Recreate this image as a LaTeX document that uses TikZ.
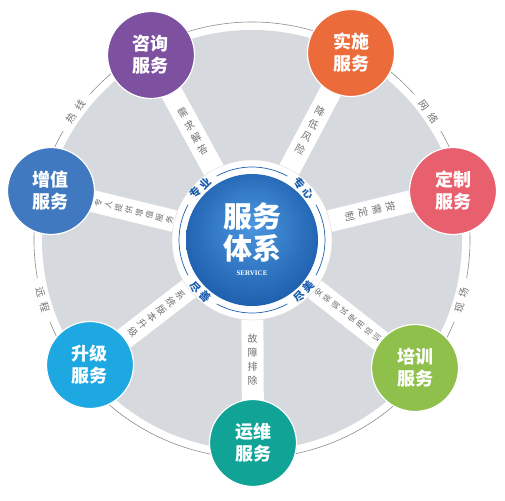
\documentclass[tikz,border=0pt]{standalone}
\usepackage{fontspec}
\setmainfont{Liberation Serif}
\newfontfamily\cjk{Noto Sans CJK SC}
\usetikzlibrary{positioning,backgrounds}

\definecolor{diskgray}{HTML}{D6D9DD}
\definecolor{linegray}{HTML}{8C8C8C}
\definecolor{txtgray}{HTML}{707070}
\definecolor{hubblue}{HTML}{1E5FAE}
\definecolor{hublight}{HTML}{4C97DF}
\definecolor{hubdark}{HTML}{0C4795}
\definecolor{zxpurple}{HTML}{7E50A0}
\definecolor{ssorange}{HTML}{EC6B3B}
\definecolor{dzred}{HTML}{E8606E}
\definecolor{pxgreen}{HTML}{8EC04B}
\definecolor{ywteal}{HTML}{10A396}
\definecolor{sjcyan}{HTML}{1DA8E2}
\definecolor{zzblue}{HTML}{4079C0}

\pgfdeclareradialshading{hubshade}{\pgfpoint{0bp}{6bp}}{color(0bp)=(hublight); color(28bp)=(hubblue); color(50bp)=(hubdark)}

\begin{document}
\begin{tikzpicture}[x=1pt,y=1pt,
  sat/.style={circle,minimum size=87pt,inner sep=0pt,draw=white,line width=1.2pt,
    text=white,align=center,font=\cjk\bfseries\fontsize{18}{22}\selectfont},
  spoke/.style={white,line width=22pt,shorten <=-4pt,shorten >=-4pt},
  spoketxt/.style={inner sep=0pt,align=center,text=txtgray,font=\cjk\fontsize{10}{14}\selectfont},
  longtxt/.style={spoketxt,font=\cjk\fontsize{8}{10.5}\selectfont},
  ringtxt/.style={inner sep=0pt,text=txtgray,font=\cjk\fontsize{10}{10}\selectfont},
  hubtxt/.style={inner sep=0pt,text=hubblue,font=\cjk\bfseries\fontsize{11}{11}\selectfont}]

\useasboundingbox (-252,-260) rectangle (253,240);

% Centre of the wheel, with its white collar.
\node[circle,fill=white,draw=black!12,line width=0.5pt,minimum size=160pt,inner sep=0pt] (hub) at (0,0) {};
\node[circle,shading=hubshade,minimum size=132pt,inner sep=0pt] (core) at (0,0) {};
\node[text=white,align=center,font=\cjk\bfseries\fontsize{29}{32}\selectfont] (title) at (0,8) {服务\\体系};
\node[below=5pt of title,inner sep=0pt,text=white,font=\bfseries\fontsize{7}{7}\selectfont] (sub) {SERVICE};

% Thin blue ring, broken for the four words.
\draw[hubblue,line width=0.7pt] (61:73) arc[start angle=61,end angle=119,radius=73];
\draw[hubblue,line width=0.7pt] (151:73) arc[start angle=151,end angle=209,radius=73];
\draw[hubblue,line width=0.7pt] (241:73) arc[start angle=241,end angle=299,radius=73];
\draw[hubblue,line width=0.7pt] (331:73) arc[start angle=331,end angle=389,radius=73];
\node[hubtxt,rotate=45] (zhuanye) at (135:73) {专\hspace{2pt}业};
\node[hubtxt,rotate=-45] (zhuanxin) at (45:73) {专\hspace{2pt}心};
\node[hubtxt,rotate=-45] (jinshan) at (225:73) {尽\hspace{2pt}善};
\node[hubtxt,rotate=45] (jinmei) at (-45:73) {尽\hspace{2pt}美};

% The seven services round the wheel.
\node[sat,fill=zxpurple] (zixun) at (-101,185) {咨询\\服务};
\node[sat,fill=ssorange] (shishi) at (99,187) {实施\\服务};
\node[sat,fill=dzred] (dingzhi) at (201,49) {定制\\服务};
\node[sat,fill=pxgreen] (peixun) at (163,-128) {培训\\服务};
\node[sat,fill=ywteal] (yunwei) at (1,-203) {运维\\服务};
\node[sat,fill=sjcyan] (shengji) at (-162,-125) {升级\\服务};
\node[sat,fill=zzblue] (zengzhi) at (-201,49) {增值\\服务};

% Grey disk, outer ring line and the white spokes go underneath.
\begin{scope}[on background layer]
\fill[diskgray] (0,0) circle (210);
\draw[linegray,line width=0.6pt] (-10:218) arc[start angle=-10,end angle=30,radius=218];
\draw[linegray,line width=0.6pt] (42:218) arc[start angle=42,end angle=138,radius=218];
\draw[linegray,line width=0.6pt] (150:218) arc[start angle=150,end angle=190,radius=218];
\draw[linegray,line width=0.6pt] (202:218) arc[start angle=202,end angle=338,radius=218];
\draw[spoke] (hub) -- (zixun);
\draw[spoke] (hub) -- (shishi);
\draw[spoke] (hub) -- (dingzhi);
\draw[spoke] (hub) -- (peixun);
\draw[spoke] (hub) -- (yunwei);
\draw[spoke] (hub) -- (shengji);
\draw[spoke] (hub) -- (zengzhi);
\end{scope}

% Words in the gaps of the outer ring.
\node[ringtxt,rotate=54] (rexian) at (144:218) {热\hspace{6pt}线};
\node[ringtxt,rotate=-54] (wangluo) at (36:218) {网\hspace{6pt}络};
\node[ringtxt,rotate=-74] (yuancheng) at (196:218) {远\hspace{6pt}程};
\node[ringtxt,rotate=74] (xianchang) at (-16:218) {现\hspace{6pt}场};

% Words along the spokes.
\path (hub) -- node[spoketxt,rotate=28.6] (qiuda) {需\\求\\解\\答} (zixun);
\path (hub) -- node[spoketxt,rotate=-27.9] (fengxian) {降\\低\\风\\险} (shishi);
\path (hub) -- node[spoketxt,rotate=-76.3] (anxu) {按\\需\\定\\制} (dingzhi);
\path (hub) -- node[longtxt,rotate=51.9] (anzhuang) {安\\装\\调\\试\\使\\用\\培\\训} (peixun);
\path (hub) -- node[spoketxt,rotate=0] (guzhang) {故\\障\\排\\除} (yunwei);
\path (hub) -- node[spoketxt,font=\cjk\fontsize{9.5}{12}\selectfont,rotate=-52.3] (banben) {系\\统\\版\\本\\升\\级} (shengji);
\path (hub) -- node[longtxt,rotate=76.3] (zhuanren) {专\\人\\提\\供\\增\\值\\服\\务} (zengzhi);

\end{tikzpicture}
\end{document}
